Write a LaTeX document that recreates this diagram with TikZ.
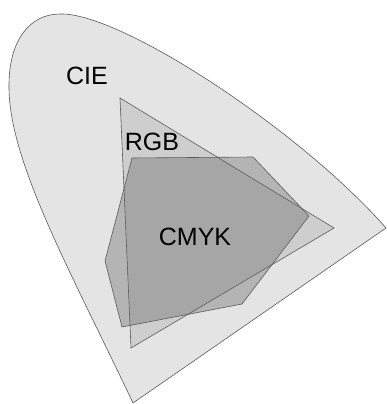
\documentclass[tikz,border=0pt]{standalone}
\usepackage{fontspec}
\setmainfont{Liberation Sans}
\definecolor{ciefill}{HTML}{E4E4E4}
\definecolor{rgbfill}{HTML}{CECECE}
\definecolor{edge}{HTML}{5A5A5A}
\tikzset{
  gamut/.style={draw=edge, line width=0.6pt, line join=miter},
  lbl/.style={font=\fontsize{25}{30}\selectfont, text=black, inner sep=0pt}
}
\begin{document}
\begin{tikzpicture}[x=1pt,y=-1pt]
\useasboundingbox (0,0) rectangle (386,404);
% CIE horseshoe
\coordinate (p0) at (133,403);
\coordinate (p1) at (9,85);
\coordinate (p2) at (60,14);
\coordinate (p3) at (386,228);
\path[gamut, fill=ciefill]
  (p0) .. controls (70,270) and (8,160) .. (p1)
       .. controls (9,40) and (30,14) .. (p2)
       .. controls (120,12) and (300,130) .. (p3)
  -- cycle;
% RGB triangle
\path[gamut, fill=rgbfill] (120,98) -- (334,228) -- (131,348) -- cycle;
% CMYK polygon
\path[gamut, fill=black!62, fill opacity=0.36]
  (132,158) -- (253,157) -- (309,216) -- (242,304) -- (122,327) -- (105,261) -- cycle;
\node[lbl] (cie) at (87,76) {CIE};
\node[lbl] (rgb) at (152,142) {RGB};
\node[lbl] (cmyk) at (195,237) {CMYK};
\end{tikzpicture}
\end{document}
